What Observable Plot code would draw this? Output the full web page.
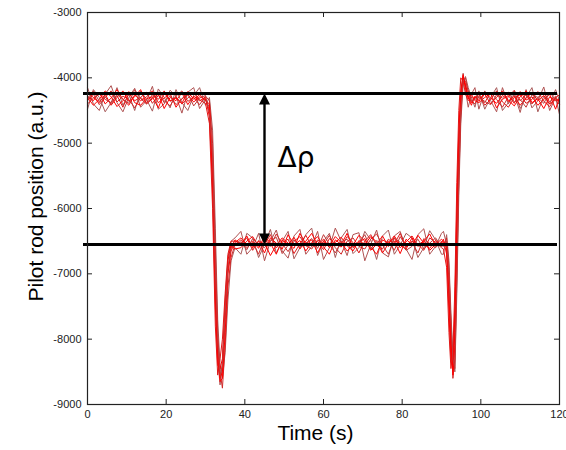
<!DOCTYPE html>
<html>
<head>
<meta charset="utf-8">
<script src="https://cdn.jsdelivr.net/npm/d3@7"></script>
<script src="https://cdn.jsdelivr.net/npm/@observablehq/plot@0.6"></script>
<style>
  html, body { margin: 0; padding: 0; background: #fff; }
</style>
</head>
<body>
<div id="chart"></div>
<script>
// ---- data ----
const time = [
  0,1.5,3,4.5,6,7.5,9,10.5,12,13.5,15,16.5,18,19.5,21,22.5,24,25.5,27,28.5,30,
  31,31.8,32.5,33.1,33.7,34.3,35,35.7,36.5,37.5,
  39,40.5,42,43.5,45,46.5,48,49.5,51,52.5,54,55.5,57,58.5,60,61.5,63,64.5,66,67.5,69,70.5,72,73.5,75,76.5,78,79.5,81,82.5,84,85.5,87,88.5,90,
  90.5,91.3,91.9,92.4,92.9,93.4,93.9,94.4,94.9,95.5,96.1,96.8,97.6,98.5,
  99.5,101,102.5,104,105.5,107,108.5,110,111.5,113,114.5,116,117.5,119,120
];

const traceA = [
  -4280,-4350,-4220,-4400,-4310,-4180,-4330,-4420,-4260,-4350,-4290,-4200,-4380,-4310,-4240,-4450,-4320,-4260,-4370,-4290,-4330,
  -4500,-5300,-7200,-8250,-8600,-8500,-7700,-6950,-6600,-6480,
  -6550,-6420,-6600,-6500,-6680,-6450,-6530,-6620,-6400,-6560,-6490,-6650,-6520,-6430,-6590,-6700,-6480,-6550,-6380,-6600,-6520,-6460,-6640,-6550,-6420,-6580,-6500,-6690,-6470,-6560,-6410,-6530,-6610,-6490,-6560,
  -6520,-6600,-7300,-8100,-8500,-7900,-6300,-5100,-4350,-3980,-4100,-4280,-4380,-4290,
  -4330,-4250,-4400,-4300,-4200,-4360,-4280,-4420,-4310,-4230,-4350,-4270,-4400,-4320,-4360
];
const traceB = [
  -4350,-4250,-4410,-4300,-4200,-4370,-4280,-4330,-4460,-4300,-4220,-4390,-4270,-4350,-4430,-4280,-4200,-4360,-4300,-4410,-4280,
  -4350,-5000,-6600,-7900,-8500,-8750,-8100,-7200,-6750,-6550,
  -6480,-6600,-6520,-6700,-6450,-6580,-6390,-6540,-6660,-6500,-6430,-6570,-6620,-6480,-6550,-6410,-6600,-6700,-6500,-6450,-6580,-6620,-6470,-6390,-6560,-6500,-6640,-6430,-6580,-6520,-6680,-6460,-6540,-6600,-6500,
  -6580,-6450,-6900,-7800,-8600,-8300,-7000,-5600,-4600,-4020,-4050,-4200,-4350,-4400,
  -4280,-4380,-4220,-4330,-4450,-4290,-4190,-4350,-4260,-4400,-4300,-4230,-4370,-4280,-4400
];
const traceC = [
  -4230,-4300,-4380,-4250,-4420,-4300,-4200,-4360,-4290,-4180,-4400,-4320,-4250,-4470,-4300,-4350,-4230,-4410,-4280,-4350,-4300,
  -4600,-5700,-7500,-8400,-8450,-8300,-7500,-6800,-6550,-6620,
  -6600,-6500,-6430,-6580,-6520,-6720,-6560,-6450,-6530,-6610,-6380,-6540,-6480,-6680,-6500,-6570,-6430,-6520,-6650,-6560,-6410,-6500,-6590,-6700,-6480,-6530,-6420,-6560,-6620,-6450,-6580,-6500,-6390,-6570,-6530,
  -6470,-6700,-7600,-8350,-8400,-7500,-5900,-4800,-4200,-3950,-4150,-4320,-4250,-4350,
  -4380,-4300,-4240,-4460,-4330,-4270,-4390,-4210,-4340,-4290,-4420,-4330,-4250,-4480,-4300
];
const traceD = [
  -4400,-4310,-4250,-4330,-4380,-4270,-4450,-4240,-4350,-4300,-4380,-4260,-4330,-4200,-4360,-4290,-4400,-4310,-4220,-4340,-4390,
  -4700,-6000,-7800,-8550,-8300,-8000,-7300,-6700,-6500,-6500,
  -6530,-6450,-6640,-6490,-6560,-6400,-6600,-6520,-6470,-6690,-6540,-6410,-6580,-6500,-6630,-6460,-6540,-6590,-6430,-6520,-6680,-6500,-6400,-6560,-6620,-6470,-6540,-6380,-6590,-6500,-6550,-6640,-6450,-6520,-6600,
  -6620,-6900,-7900,-8450,-8200,-7200,-5600,-4500,-4000,-4050,-4250,-4350,-4300,-4320,
  -4250,-4420,-4330,-4200,-4370,-4450,-4300,-4260,-4390,-4330,-4210,-4360,-4440,-4300,-4260
];
const traceE = [
  -4300,-4420,-4330,-4200,-4290,-4440,-4350,-4210,-4380,-4420,-4320,-4290,-4460,-4230,-4350,-4310,-4390,-4210,-4330,-4260,-4350,
  -4400,-5500,-7000,-8100,-8650,-8600,-7900,-7000,-6650,-6520,
  -6450,-6560,-6500,-6610,-6420,-6530,-6700,-6480,-6550,-6440,-6620,-6500,-6380,-6560,-6470,-6600,-6520,-6440,-6570,-6650,-6490,-6550,-6430,-6510,-6680,-6540,-6450,-6600,-6510,-6420,-6570,-6490,-6640,-6550,-6470,
  -6500,-6550,-7100,-8000,-8550,-8100,-6600,-5300,-4450,-4000,-4120,-4300,-4420,-4280,
  -4360,-4220,-4310,-4390,-4270,-4340,-4430,-4290,-4200,-4380,-4320,-4470,-4290,-4350,-4330
];
const traceF = [
  -4320,-4200,-4360,-4290,-4410,-4250,-4330,-4390,-4180,-4320,-4400,-4300,-4220,-4380,-4270,-4410,-4320,-4240,-4430,-4310,-4270,
  -4550,-5200,-6900,-8000,-8550,-8400,-7600,-6900,-6600,-6560,
  -6510,-6630,-6460,-6550,-6600,-6500,-6440,-6690,-6560,-6480,-6600,-6530,-6460,-6610,-6400,-6550,-6680,-6510,-6470,-6590,-6530,-6400,-6620,-6490,-6560,-6700,-6450,-6520,-6640,-6580,-6470,-6620,-6530,-6450,-6590,
  -6550,-6500,-7000,-7700,-8300,-8450,-7100,-5500,-4500,-4050,-4000,-4220,-4360,-4330,
  -4300,-4360,-4410,-4260,-4310,-4220,-4370,-4330,-4450,-4260,-4300,-4390,-4220,-4340,-4410
];
const traceG = [
  -4150,-4400,-4500,-4250,-4120,-4380,-4520,-4300,-4160,-4450,-4350,-4130,-4480,-4400,-4190,-4280,-4540,-4220,-4150,-4470,-4330,
  -4450,-5600,-7400,-8300,-8700,-8350,-7400,-6750,-6500,-6450,
  -6350,-6700,-6600,-6380,-6800,-6500,-6330,-6650,-6760,-6420,-6320,-6700,-6580,-6350,-6780,-6600,-6300,-6500,-6720,-6400,-6370,-6800,-6550,-6330,-6680,-6740,-6420,-6350,-6620,-6780,-6400,-6310,-6700,-6580,-6380,
  -6350,-6550,-7400,-8200,-8450,-7600,-6000,-4900,-4250,-3930,-4200,-4450,-4250,-4150,
  -4480,-4200,-4350,-4520,-4150,-4400,-4250,-4530,-4180,-4460,-4350,-4140,-4500,-4300,-4560
];
const traceH = [
  -4480,-4180,-4300,-4520,-4380,-4150,-4420,-4250,-4500,-4200,-4330,-4510,-4170,-4300,-4460,-4180,-4380,-4500,-4270,-4150,-4420,
  -4300,-4800,-6300,-7700,-8400,-8600,-8200,-7400,-6800,-6600,
  -6700,-6380,-6450,-6750,-6550,-6320,-6680,-6500,-6350,-6770,-6600,-6400,-6300,-6720,-6500,-6380,-6750,-6450,-6320,-6690,-6600,-6350,-6480,-6780,-6420,-6330,-6700,-6560,-6380,-6450,-6750,-6600,-6340,-6480,-6700,
  -6700,-6400,-6800,-7600,-8250,-8500,-7300,-5800,-4700,-4100,-3980,-4150,-4300,-4450,
  -4200,-4480,-4300,-4150,-4500,-4380,-4200,-4470,-4300,-4150,-4520,-4280,-4400,-4180,-4350
];

const traces = [traceG, traceH, traceA, traceB, traceC, traceD, traceE, traceF];
const traceColors = ["#b05252", "#a85a5a", "#ff0000", "#d02a2a", "#ff0000", "#e01818", "#ff0000", "#c03a3a"];

const levels = [-4240, -6550];          // the two reference levels
const arrowTime = 45;                   // position of the Δρ arrow
const deltaLabel = ["Δρ"];
const deltaPos = {t: 48.3, v: -5370};

const xTicks = [0, 20, 40, 60, 80, 100, 120];
const yTicks = [-9000, -8000, -7000, -6000, -5000, -4000, -3000];
const innerTicksX = [20, 40, 60, 80, 100];
const innerTicksY = [-8000, -7000, -6000, -5000, -4000];
const xLabel = ["Time (s)"];
const yLabel = ["Pilot rod position (a.u.)"];

// ---- build ----
const W = 566, H = 450;
const mL = 87, mR = 7, mT = 12, mB = 46;
const innerW = W - mL - mR, innerH = H - mT - mB;
const tickLen = 5;

const traceMarks = traces.map((tr, k) =>
  Plot.line(time.map((t, i) => ({t, v: tr[i]})), {
    x: "t", y: "v", stroke: traceColors[k], strokeWidth: 1, strokeLinejoin: "miter"
  })
);

const upTri = {draw(ctx, size) {
  const r = Math.sqrt(size / Math.PI);
  ctx.moveTo(0, 0); ctx.lineTo(-r, 2 * r); ctx.lineTo(r, 2 * r); ctx.closePath();
}};
const downTri = {draw(ctx, size) {
  const r = Math.sqrt(size / Math.PI);
  ctx.moveTo(0, 0); ctx.lineTo(-r, -2 * r); ctx.lineTo(r, -2 * r); ctx.closePath();
}};

const chart = Plot.plot({
  width: W, height: H,
  marginLeft: mL, marginRight: mR, marginTop: mT, marginBottom: mB,
  style: {fontFamily: "'Liberation Sans', Arial, sans-serif", fontSize: "11px", color: "#222", background: "white", overflow: "visible"},
  x: {domain: [0, 120]},
  y: {domain: [-9000, -3000]},
  marks: [
    ...traceMarks,
    Plot.ruleY(levels, {stroke: "black", strokeWidth: 3, insetLeft: -4, insetRight: 2}),
    Plot.link([levels], {x1: () => arrowTime, x2: () => arrowTime, y1: d => d[0] - 150, y2: d => d[1] + 150, stroke: "black", strokeWidth: 2.4}),
    Plot.dot([levels[0]], {x: () => arrowTime, y: d => d, symbol: upTri, r: 5.5, fill: "black", stroke: "none"}),
    Plot.dot([levels[1]], {x: () => arrowTime, y: d => d, symbol: downTri, r: 5.5, fill: "black", stroke: "none"}),
    Plot.text(deltaLabel, {x: () => deltaPos.t, y: () => deltaPos.v, text: d => d, textAnchor: "start", lineAnchor: "bottom",
      fontSize: 28, fontFamily: "'DejaVu Sans', sans-serif", fill: "black"}),
    Plot.frame({stroke: "#222", strokeWidth: 1.2}),
    Plot.tickX(innerTicksX, {x: d => d, insetTop: innerH - tickLen, stroke: "#222"}),
    Plot.tickX(innerTicksX, {x: d => d, insetBottom: innerH - tickLen, stroke: "#222"}),
    Plot.tickY(innerTicksY, {y: d => d, insetRight: innerW - tickLen, stroke: "#222"}),
    Plot.tickY(innerTicksY, {y: d => d, insetLeft: innerW - tickLen, stroke: "#222"}),
    Plot.axisX(xTicks, {tickSize: 0, tickPadding: 6, label: null, tickFormat: d => String(d), fill: "#222"}),
    Plot.axisY(yTicks, {tickSize: 0, tickPadding: 6, label: null, tickFormat: d => String(d), fill: "#222"}),
    Plot.text(xLabel, {frameAnchor: "bottom", dx: -8, dy: 35, lineAnchor: "bottom", fontSize: 21, fill: "black"}),
    Plot.text(yLabel, {frameAnchor: "left", textAnchor: "middle", lineAnchor: "middle", rotate: -90, dx: -51, dy: -12, fontSize: 21, fill: "black"})
  ]
});

document.getElementById("chart").appendChild(chart);
</script>
</body>
</html>
